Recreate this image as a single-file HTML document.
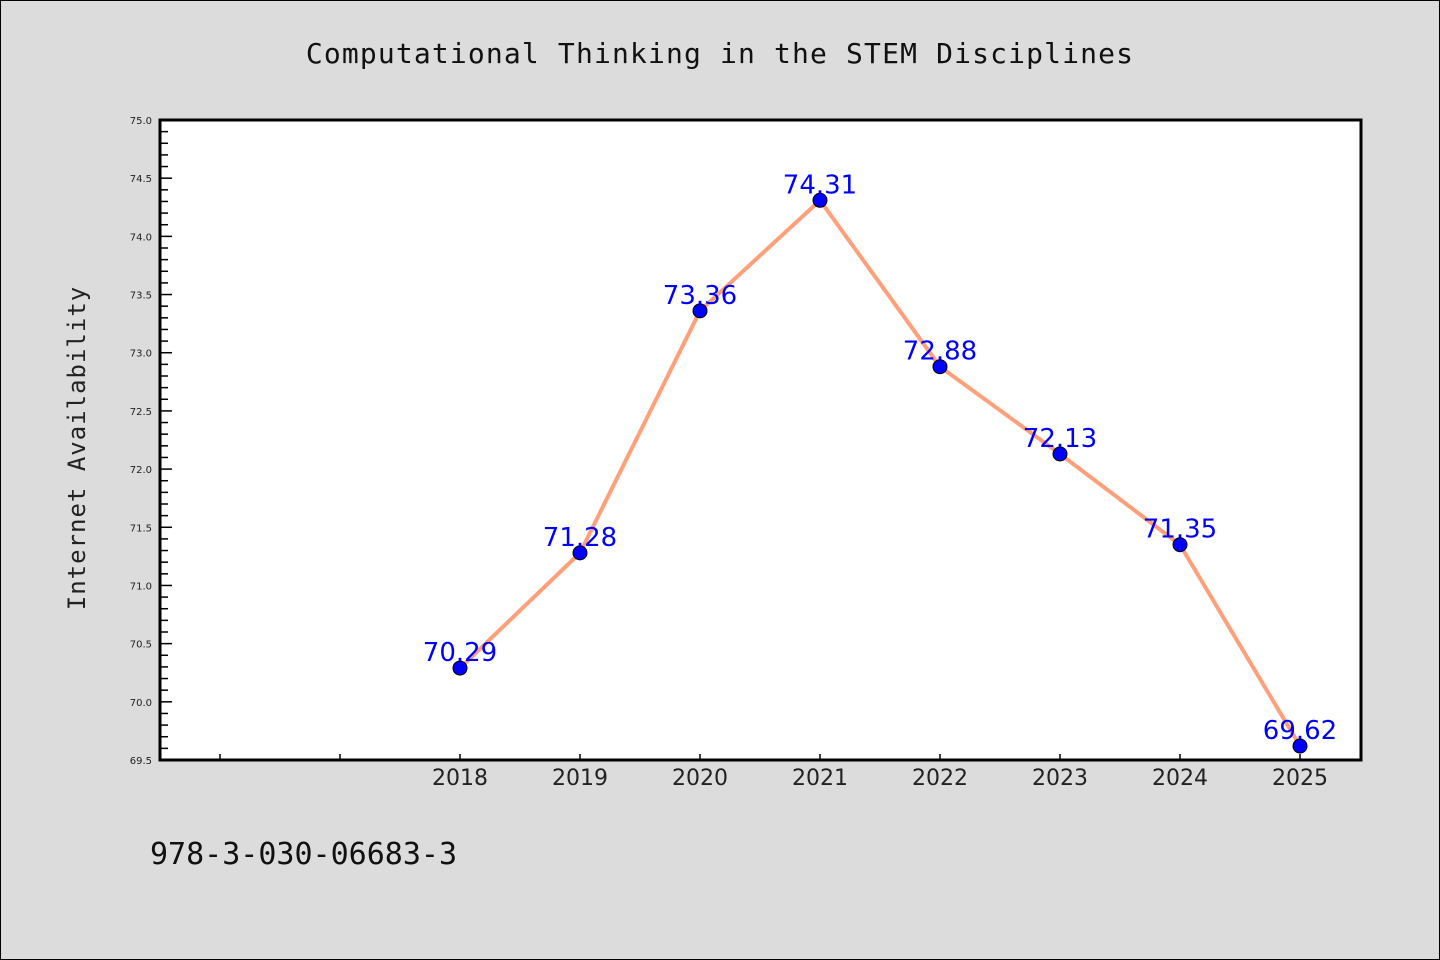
<!DOCTYPE html>
<html><head><meta charset="utf-8"><style>
html,body{margin:0;padding:0;background:#dcdcdc;}
svg{display:block;}
</style></head><body>
<svg width="1440" height="960" xmlns="http://www.w3.org/2000/svg">
<rect x="0.5" y="0.5" width="1439" height="959" fill="#dcdcdc" stroke="#000" stroke-width="1"/>
<text x="720" y="63" text-anchor="middle" font-family="DejaVu Sans Mono, Liberation Mono, monospace" font-size="28" letter-spacing="1.15" fill="#111">Computational Thinking in the STEM Disciplines</text>
<rect x="160" y="120" width="1201" height="640" fill="#fff"/>
<g id="yaxis"></g>
<g id="xaxis"></g>
<text transform="translate(85,448) rotate(-90)" text-anchor="middle" font-family="DejaVu Sans Mono, Liberation Mono, monospace" font-size="24" fill="#222" letter-spacing="1">Internet Availability</text>
<g id="series"></g>
<rect x="160" y="120" width="1201" height="640" fill="none" stroke="#000" stroke-width="3"/>
<text x="150" y="864" font-family="DejaVu Sans Mono, Liberation Mono, monospace" font-size="30" fill="#111">978-3-030-06683-3</text>
</svg>
<script>
const years = [2018, 2019, 2020, 2021, 2022, 2023, 2024, 2025];
const values = [70.29, 71.28, 73.36, 74.31, 72.88, 72.13, 71.35, 69.62];
const valueLabels = ["70.29", "71.28", "73.36", "74.31", "72.88", "72.13", "71.35", "69.62"];
const yTicks = ["69.5","70.0","70.5","71.0","71.5","72.0","72.5","73.0","73.5","74.0","74.5","75.0"];
const xTicks = [2016, 2017, 2018, 2019, 2020, 2021, 2022, 2023, 2024, 2025];

const NS = "http://www.w3.org/2000/svg";
const pLeft=160, pRight=1361, pTop=120, pBottom=760;
const yMin=69.5, yMax=75.0;
const xMin=2015.5, xMax=2025.5083;
const sx = v => pLeft + (v - xMin) / (xMax - xMin) * (pRight - pLeft);
const sy = v => pBottom - (v - yMin) / (yMax - yMin) * (pBottom - pTop);
function mk(tag, attrs, parent){const e=document.createElementNS(NS,tag);for(const k in attrs)e.setAttribute(k,attrs[k]);parent.appendChild(e);return e;}

const ya=document.getElementById('yaxis');
for(let i=0;i<=55;i++){
  const v=yMin+i*0.1, y=sy(v), major=i%5===0;
  const t=mk('line',{x1:pLeft,x2:pLeft+(major?12:8),y1:y,y2:y,stroke:'#000','stroke-width':1.5},ya);
  
  
}
yTicks.forEach(s=>{
  const y=sy(parseFloat(s));
  const t=mk('text',{x:152,y:y+4,'text-anchor':'end','font-family':'DejaVu Sans, Liberation Sans, sans-serif','font-size':10,fill:'#222'},ya);
  t.textContent=s;
  
  
});
const xa=document.getElementById('xaxis');
xTicks.forEach(v=>{
  const x=sx(v);
  const t=mk('line',{x1:x,x2:x,y1:pBottom,y2:pBottom-6,stroke:'#000','stroke-width':1.5},xa);
  
  
});
years.forEach(v=>{
  const t=mk('text',{x:sx(v),y:785,'text-anchor':'middle','font-family':'DejaVu Sans, Liberation Sans, sans-serif','font-size':22,fill:'#222'},xa);
  t.textContent=String(v);
  
  
});
const sg=document.getElementById('series');
const pts=years.map((y,i)=>sx(y)+','+sy(values[i])).join(' ');
const line=mk('polyline',{points:pts,fill:'none',stroke:'#ffa07a','stroke-width':4,'stroke-linejoin':'round'},sg);


years.forEach((y,i)=>{
  const c=mk('circle',{cx:sx(y),cy:sy(values[i]),r:7,fill:'#0000ff',stroke:'#000','stroke-width':1},sg);
  
  
  const t=mk('text',{x:sx(y),y:sy(values[i])-7,'text-anchor':'middle','font-family':'DejaVu Sans, Liberation Sans, sans-serif','font-size':26,fill:'#0000ff'},sg);
  t.textContent=valueLabels[i];
  
  
});
</script>
</body></html>
